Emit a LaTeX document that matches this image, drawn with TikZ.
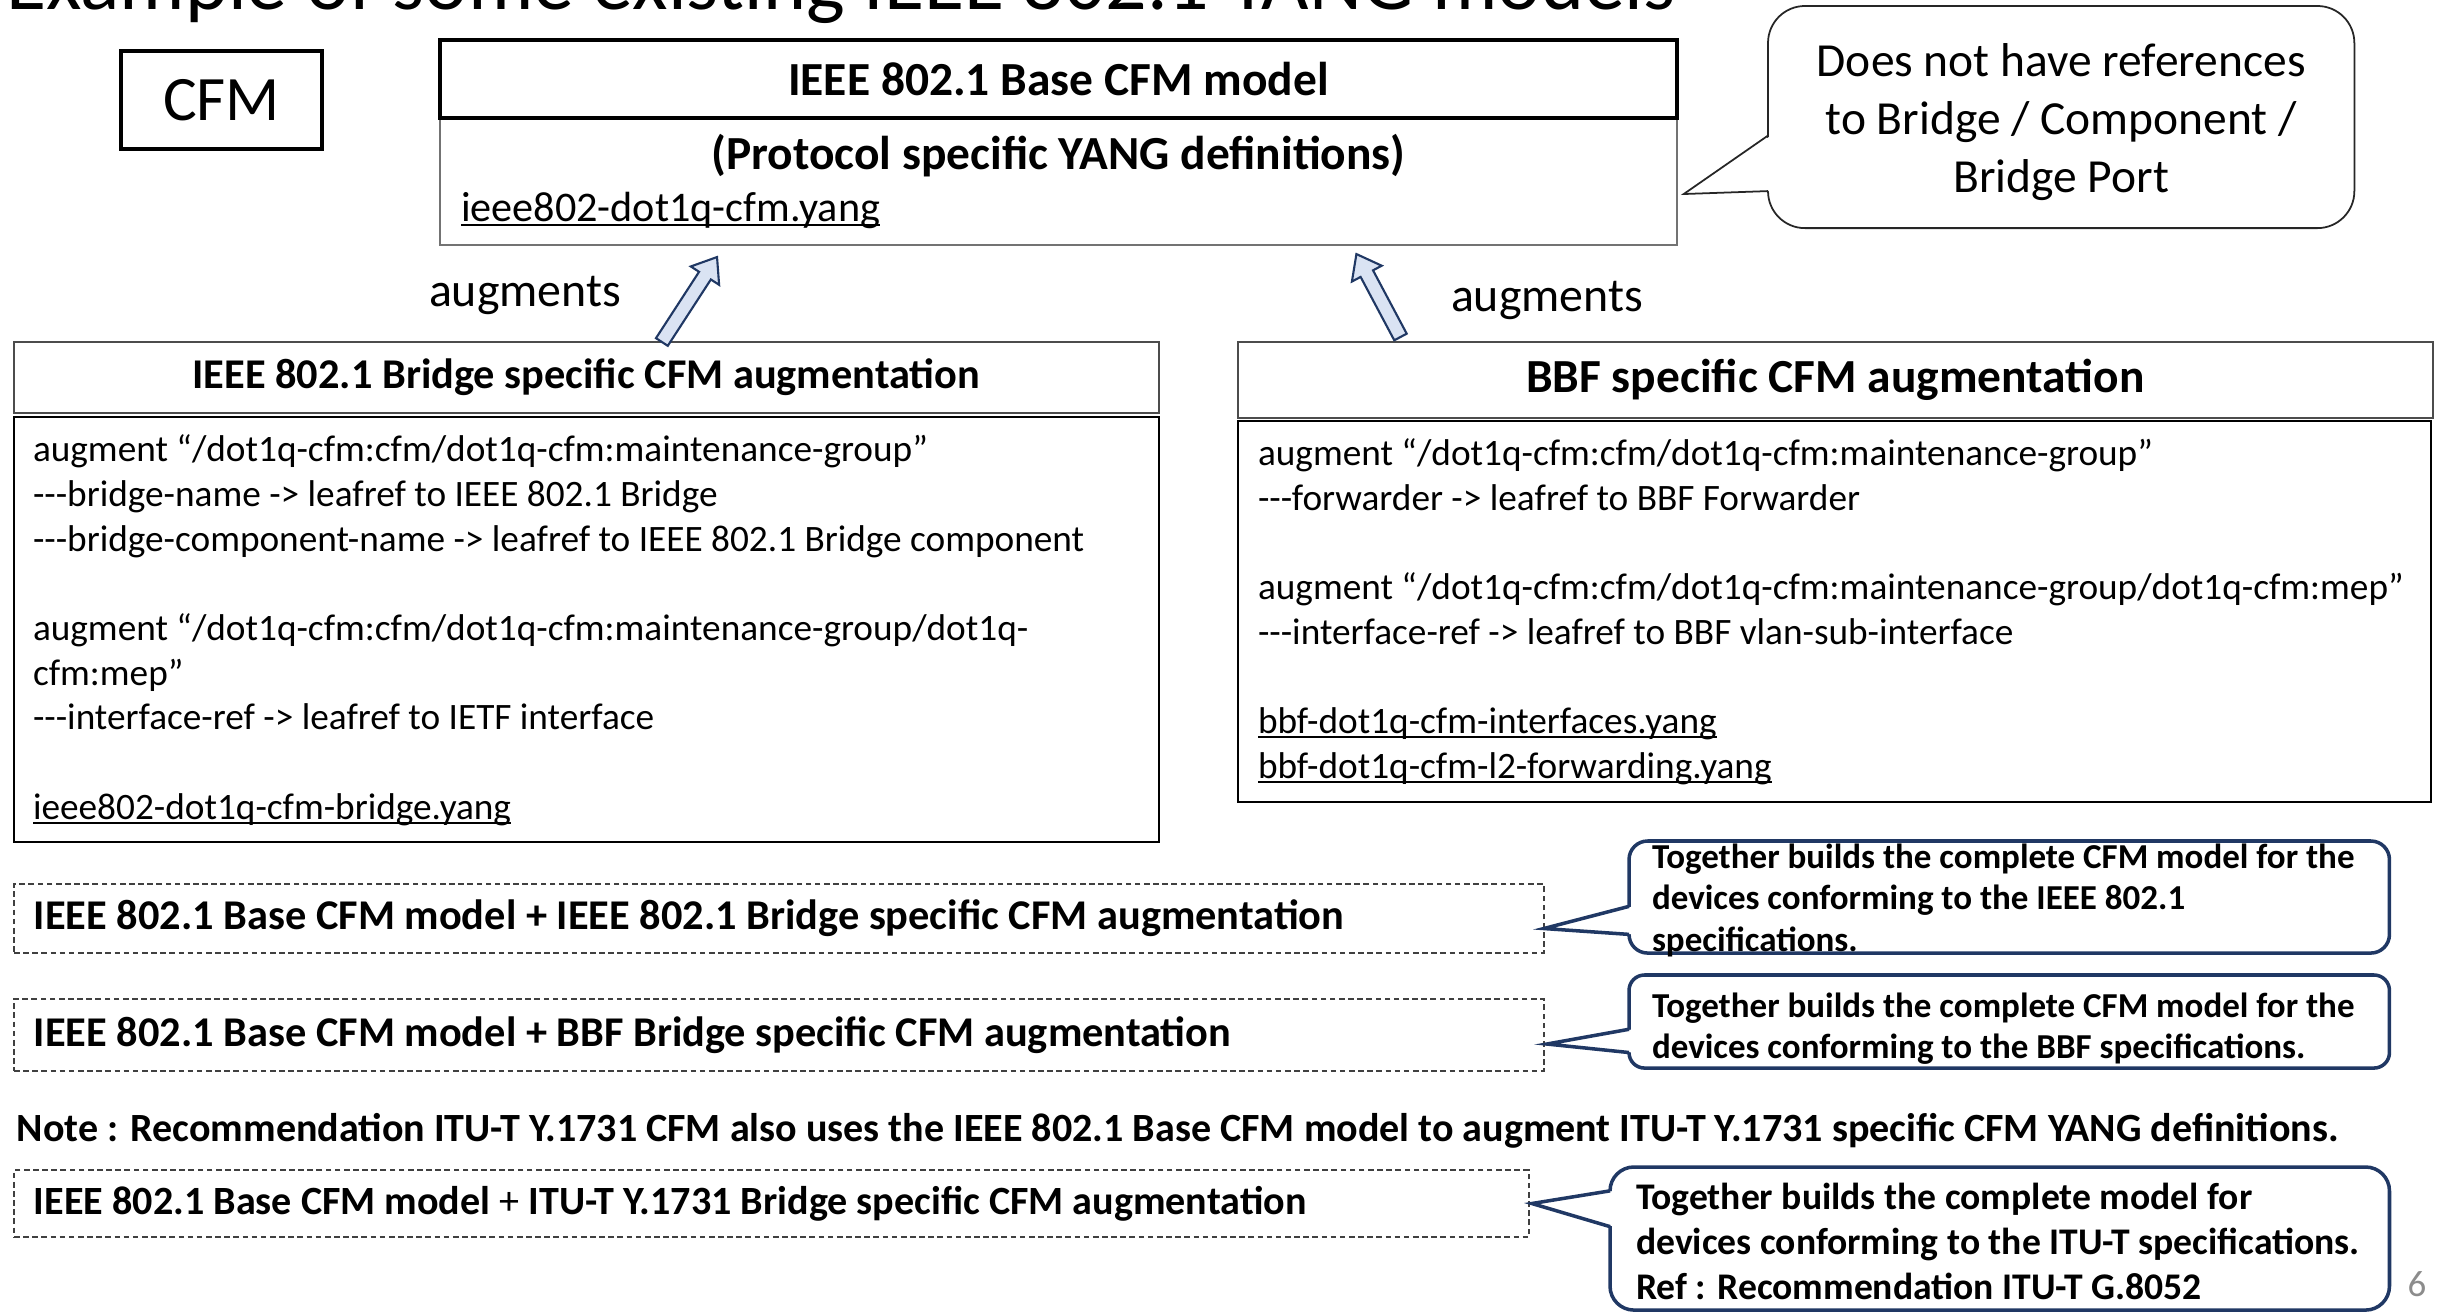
\documentclass[tikz,border=0pt]{standalone}
\usepackage{fontspec}
\setmainfont{Carlito}
\usetikzlibrary{calc}
\definecolor{navyline}{RGB}{32,56,100}
\definecolor{arrowfill}{RGB}{218,227,243}
\definecolor{pagegray}{RGB}{140,140,140}
\newsavebox{\yangbox}
\newcommand{\yangfile}[1]{\leavevmode\sbox{\yangbox}{#1}\rlap{\rule[-0.12em]{\wd\yangbox}{0.06em}}\usebox{\yangbox}}
\newcommand{\leafdash}{-\kern0pt-\kern0pt-}
\newcommand{\natspace}{\spaceskip=0pt\xspaceskip=0pt\relax}

\begin{document}
\begin{tikzpicture}[x=0.01cm, y=-0.01cm,
    every node/.style={inner sep=0pt, outer sep=0pt},
    plainbox/.style={draw, rectangle, anchor=north west},
    hdrtxt/.style={font=\bfseries\fontsize{13.5}{16.5}\selectfont},
    bodytxt/.style={font=\fontsize{10.6}{12.7}\selectfont, text width=12cm, align=left, anchor=base west, execute at begin node=\natspace},
    combobox/.style={draw=black!75, line width=0.5pt, dash pattern=on 1.6pt off 1pt, anchor=north west},
    combotxt/.style={font=\bfseries\fontsize{12.05}{14.5}\selectfont, anchor=west},
    togbox/.style={draw=navyline, line width=1pt, fill=white, anchor=north west},
    togtxt/.style={font=\bfseries\fontsize{9.95}{11.9}\selectfont, text width=7.4cm, align=left, anchor=base west, execute at begin node=\natspace},
    augarrow/.style={draw=navyline, line width=0.6pt, fill=arrowfill, line join=miter},
    augtxt/.style={font=\fontsize{13.6}{16.5}\selectfont}]

    % page and title
    \useasboundingbox (0,0) rectangle (2437,1313);
    \clip (0,0) rectangle (2437,1313);
    \node[anchor=base east, font=\fontsize{23.3}{28}\selectfont] (title) at (1676,10) {Example of some existing IEEE 802.1 YANG models};

    % CFM label
    \node[draw, line width=1.1pt, minimum width=2.01cm, minimum height=0.98cm, font=\fontsize{18}{22}\selectfont] (cfm) at (221.5,100) {CFM};

    % base model
    \node[plainbox, draw=black!55, line width=0.5pt, minimum width=12.36cm, minimum height=1.27cm] (basebody) at (440,118) {};
    \node[plainbox, line width=1.1pt, minimum width=12.36cm, minimum height=0.78cm, hdrtxt] (basehdr) at (440,40) {IEEE 802.1 Base CFM model};
    \node[hdrtxt] (baseproto) at ($(basebody.north)+(0,38)$) {(Protocol specific YANG definitions)};
    \node[anchor=west, font=\fontsize{12}{14.5}\selectfont] (basefile) at ($(basebody.north west)+(21,92)$) {\yangfile{ieee802-dot1q-cfm.yang}};

    % callout on the base model
    \node[plainbox, draw=black!85, line width=0.5pt, fill=white, rounded corners=10.5pt, minimum width=5.86cm, minimum height=2.22cm] (noref) at (1768,6) {};
    \node[align=center, font=\fontsize{13.5}{16.5}\selectfont] (noreftxt) at ($(noref.center)+(0,5)$) {Does not have references\\to Bridge / Component /\\Bridge Port};
    \coordinate (norefA) at ($(noref.north west)!0.5833!(noref.south west)$);
    \coordinate (norefB) at ($(noref.north west)!0.8333!(noref.south west)$);
    \coordinate (norefTip) at ($(basebody.east)+(7,12.5)$);
    \fill[white] ($(norefA)+(3,0)$) -- (norefTip) -- ($(norefB)+(3,0)$) -- cycle;
    \draw[black!85, line width=0.5pt] (norefA) -- (norefTip) -- (norefB);

    % IEEE bridge augmentation
    \node[plainbox, draw=black!70, line width=0.6pt, minimum width=11.44cm, minimum height=0.71cm, font=\bfseries\fontsize{12.05}{14.5}\selectfont] (lhead) at (14,342) {IEEE 802.1 Bridge specific CFM augmentation};
    \node[plainbox, line width=0.6pt, minimum width=11.44cm, minimum height=4.25cm] (lbody) at (14,417) {};
    \node[bodytxt] (ltext) at ($(lbody.north west)+(19,45)$) {augment “/dot1q-cfm:cfm/dot1q-cfm:maintenance-group”\\
        \leafdash bridge-name -> leafref to IEEE 802.1 Bridge\\
        \leafdash bridge-component-name -> leafref to IEEE 802.1 Bridge component\\[12.7pt]
        augment “/dot1q-cfm:cfm/dot1q-cfm:maintenance-group/dot1q-\\
        cfm:mep”\\
        \leafdash interface-ref -> leafref to IETF interface\\[12.7pt]
        \yangfile{ieee802-dot1q-cfm-bridge.yang}};

    % BBF augmentation
    \node[plainbox, draw=black!70, line width=0.6pt, minimum width=11.94cm, minimum height=0.76cm, hdrtxt] (rhead) at (1238,342) {BBF specific CFM augmentation};
    \node[plainbox, line width=0.6pt, minimum width=11.92cm, minimum height=3.81cm] (rbody) at (1238,421) {};
    \node[bodytxt] (rtext) at ($(rbody.north west)+(20,45)$) {augment “/dot1q-cfm:cfm/dot1q-cfm:maintenance-group”\\
        \leafdash forwarder -> leafref to BBF Forwarder\\[12.7pt]
        augment “/dot1q-cfm:cfm/dot1q-cfm:maintenance-group/dot1q-cfm:mep”\\
        \leafdash interface-ref -> leafref to BBF vlan-sub-interface\\[12.7pt]
        \yangfile{bbf-dot1q-cfm-interfaces.yang}\\
        \yangfile{bbf-dot1q-cfm-l2-forwarding.yang}};

    % augments arrows
    \node[augtxt] (laug) at (525,295) {augments};
    \node[augtxt] (raug) at (1547,300) {augments};
    \coordinate (ltail) at ($(lhead.north west)!0.566!(lhead.north east)$);
    \coordinate (ltip) at ($(basebody.south west)!0.224!(basebody.south east)+(0,12)$);
    \coordinate (rtail) at ($(rhead.north west)!0.136!(rhead.north east)+(0,-5)$);
    \coordinate (rtip) at ($(basebody.south west)!0.741!(basebody.south east)+(0,9)$);
    \foreach \a/\b in {ltail/ltip, rtail/rtip} {
        \coordinate (neck) at ($(\b)!6.3pt!(\a)$);
        \draw[augarrow] ($(\a)!2pt!90:(\b)$) -- ($(neck)!2pt!90:(\b)$) -- ($(neck)!4.8pt!90:(\b)$) -- (\b)
            -- ($(neck)!4.8pt!-90:(\b)$) -- ($(neck)!2pt!-90:(\b)$) -- ($(\a)!2pt!-90:(\b)$) -- cycle;
    }

    % combined models
    \node[combobox, minimum width=15.29cm, minimum height=0.69cm] (combo1) at (14,884) {};
    \node[combotxt] (combo1txt) at ($(combo1.west)+(20,0)$) {IEEE 802.1 Base CFM model + IEEE 802.1 Bridge specific CFM augmentation};
    \node[combobox, minimum width=15.29cm, minimum height=0.72cm] (combo2) at (14,999) {};
    \node[combotxt] (combo2txt) at ($(combo2.west)+(20,0)$) {IEEE 802.1 Base CFM model + BBF Bridge specific CFM augmentation};
    \node[anchor=west, font=\bfseries\fontsize{11.39}{14}\selectfont] (note) at (17,1131) {Note : Recommendation ITU-T Y.1731 CFM also uses the IEEE 802.1 Base CFM model to augment ITU-T Y.1731 specific CFM YANG definitions.};
    \node[combobox, minimum width=15.14cm, minimum height=0.67cm] (combo3) at (14,1170) {};
    \node[combotxt, font=\bfseries\fontsize{11.4}{14}\selectfont] (combo3txt) at ($(combo3.west)+(20,0)$) {IEEE 802.1 Base CFM model {\mdseries +} ITU-T Y.1731 Bridge specific CFM augmentation};

    % callouts on the combined models
    \node[togbox, rounded corners=5.3pt, minimum width=7.60cm, minimum height=1.12cm] (tog1) at (1629,841) {};
    \node[togbox, rounded corners=4.4pt, minimum width=7.60cm, minimum height=0.93cm] (tog2) at (1629,975) {};
    \node[togbox, rounded corners=6.8pt, minimum width=7.79cm, minimum height=1.43cm] (tog3) at (1610,1167) {};
    \coordinate (tog1tip) at ($(combo1.east)+(0,10)$);
    \coordinate (tog2tip) at ($(combo2.east)+(3,9)$);
    \coordinate (tog3tip) at ($(combo3.east)+(3,0)$);
    \foreach \c/\fa/\fb in {tog1/0.5833/0.8333, tog2/0.5833/0.8333, tog3/0.1667/0.4167} {
        \coordinate (\c A) at ($(\c.north west)!\fa!(\c.south west)$);
        \coordinate (\c B) at ($(\c.north west)!\fb!(\c.south west)$);
        \fill[white] ($(\c A)+(4,0)$) -- (\c tip) -- ($(\c B)+(4,0)$) -- cycle;
        \draw[navyline, line width=1pt] (\c A) -- (\c tip) -- (\c B);
    }
    \node[togtxt] (tog1txt) at ($(tog1.north west)+(23,27)$) {Together builds the complete CFM model for the\\devices conforming to the IEEE 802.1\\specifications.};
    \node[togtxt] (tog2txt) at ($(tog2.north west)+(23,42)$) {Together builds the complete CFM model for the\\devices conforming to the BBF specifications.};
    \node[togtxt, font=\bfseries\fontsize{10.7}{12.8}\selectfont] (tog3txt) at ($(tog3.north west)+(26,42)$) {Together builds the complete model for\\devices conforming to the ITU-T specifications.\\Ref : Recommendation ITU-T G.8052};

    % page number
    \node[font=\fontsize{10.5}{12.5}\selectfont, text=pagegray] (pagenum) at (2417,1284) {6};
\end{tikzpicture}
\end{document}
